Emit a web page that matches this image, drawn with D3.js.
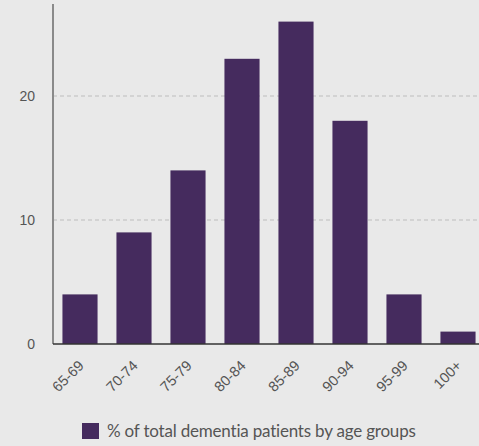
<!DOCTYPE html>
<html>
<head>
<meta charset="utf-8">
<script src="https://cdn.jsdelivr.net/npm/d3@7"></script>
<style>
  html, body { margin: 0; padding: 0; background: #e9e9e9; }
  svg { display: block; font-family: Lato, "Open Sans", sans-serif; }
</style>
</head>
<body>
<svg id="chart" width="479" height="446"></svg>
<script>
// Share of all dementia patients falling in each age band
const ageGroups = ["65-69", "70-74", "75-79", "80-84", "85-89", "90-94", "95-99", "100+"];
const sharePercent = [4, 9, 14, 23, 26, 18, 4, 1];
const yTicks = [0, 10, 20];
const seriesLabel = "% of total dementia patients by age groups";

const svg = d3.select("#chart");
const W = 479, H = 446;
const left = 53, baseline = 344;

const x = d3.scaleBand()
  .domain(ageGroups)
  .range([left, left + 432])
  .paddingInner(0.35)
  .paddingOuter(0.175);

const y = d3.scaleLinear()
  .domain([0, 10])
  .range([baseline, baseline - 124]);

const barColor = "#452b5e";
const textColor = "#555";

// dashed grid lines
svg.append("g")
  .selectAll("line")
  .data(yTicks.filter(d => d > 0))
  .join("line")
  .attr("x1", left)
  .attr("x2", W)
  .attr("y1", d => y(d))
  .attr("y2", d => y(d))
  .attr("stroke", "#bdbdbd")
  .attr("stroke-width", 1)
  .attr("stroke-dasharray", "4,3");

// bars
svg.append("g")
  .selectAll("rect")
  .data(ageGroups.map((g, i) => ({ g, v: sharePercent[i] })))
  .join("rect")
  .attr("x", d => x(d.g))
  .attr("width", x.bandwidth())
  .attr("y", d => y(d.v))
  .attr("height", d => baseline - y(d.v))
  .attr("fill", barColor);

// y axis
const yAxis = svg.append("g")
  .attr("transform", `translate(${left},0)`)
  .call(d3.axisLeft(y).tickValues(yTicks).tickSize(0).tickPadding(18));
yAxis.select(".domain").remove();
yAxis.selectAll("text")
  .attr("fill", textColor)
  .style("font-size", "14px");
svg.append("line")
  .attr("x1", left).attr("x2", left)
  .attr("y1", 4).attr("y2", baseline)
  .attr("stroke", "#8a8a8a")
  .attr("stroke-width", 2);

// x axis with slanted labels
const xAxis = svg.append("g")
  .attr("transform", `translate(0,${baseline})`)
  .call(d3.axisBottom(x).tickSize(0).tickPadding(0));
xAxis.select(".domain").remove();
xAxis.selectAll("text")
  .attr("fill", textColor)
  .style("font-size", "14.5px")
  .attr("text-anchor", "end")
  .attr("dy", "0.35em")
  .attr("transform", "translate(1,19) rotate(-45)");
svg.append("line")
  .attr("x1", left).attr("x2", W)
  .attr("y1", baseline).attr("y2", baseline)
  .attr("stroke", "#333")
  .attr("stroke-width", 1.5);

// legend
const legend = svg.append("g").attr("transform", "translate(82,423)");
legend.append("rect")
  .attr("width", 17).attr("height", 16)
  .attr("fill", barColor);
legend.append("text")
  .attr("x", 25).attr("y", 14)
  .attr("fill", textColor)
  .style("font-size", "17px")
  .style("letter-spacing", "-0.2px")
  .text(seriesLabel);
</script>
</body>
</html>
